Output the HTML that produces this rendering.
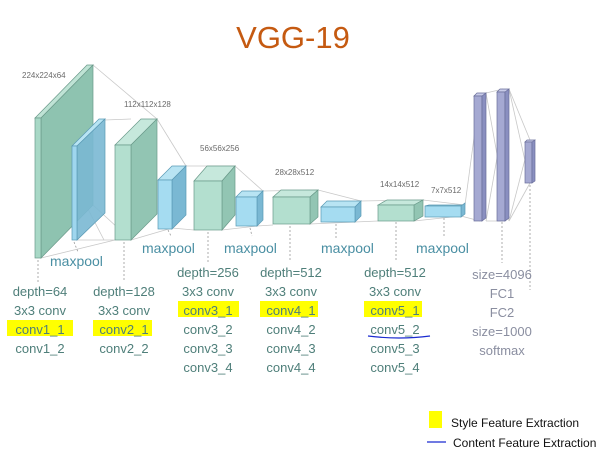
<!DOCTYPE html>
<html><head><meta charset="utf-8"><style>
html,body{margin:0;padding:0;background:#fff;width:613px;height:466px;overflow:hidden}
svg{display:block}
text{font-family:"Liberation Sans",sans-serif}
</style></head><body>
<svg width="613" height="466" viewBox="0 0 613 466" xmlns="http://www.w3.org/2000/svg">
<text x="293" y="48" text-anchor="middle" font-size="31" fill="#c55a11">VGG-19</text>

<!-- connector lines -->
<g stroke="#c8c8c8" stroke-width="0.8" fill="none">
<line x1="93" y1="65" x2="157" y2="119"/><line x1="41" y1="258" x2="115" y2="240"/>
<line x1="41" y1="118" x2="104" y2="240"/><line x1="93" y1="205" x2="131" y2="240"/>
<line x1="157" y1="119" x2="186" y2="166"/><line x1="131" y1="240" x2="172" y2="228"/>
<line x1="105" y1="120" x2="131" y2="119"/><line x1="77" y1="240" x2="115" y2="240"/>
<line x1="186" y1="166" x2="235" y2="166"/><line x1="172" y1="228" x2="194" y2="230"/>
<line x1="235" y1="166" x2="263" y2="191"/><line x1="222" y1="230" x2="257" y2="226"/>
<line x1="263" y1="191" x2="318" y2="190"/><line x1="257" y1="226" x2="273" y2="225"/>
<line x1="318" y1="190" x2="361" y2="201"/><line x1="310" y1="224" x2="355" y2="222"/>
<line x1="361" y1="201" x2="423" y2="200"/><line x1="355" y1="222" x2="378" y2="221"/>
<line x1="423" y1="200" x2="465" y2="205"/><line x1="414" y1="221" x2="461" y2="216"/>
<line x1="465" y1="205" x2="480" y2="93"/><line x1="461" y1="216" x2="480" y2="221"/>
<line x1="486" y1="93" x2="503" y2="89"/><line x1="486" y1="221" x2="503" y2="221"/>
<line x1="486" y1="93" x2="509" y2="221"/><line x1="486" y1="221" x2="509" y2="89"/>
<line x1="509" y1="89" x2="530" y2="140"/><line x1="509" y1="221" x2="530" y2="183"/>
<line x1="509" y1="89" x2="530" y2="183"/><line x1="509" y1="221" x2="530" y2="140"/>
</g>

<!-- dotted drops -->
<g stroke="#9a9a9a" stroke-width="0.8" stroke-dasharray="2,2" fill="none">
<line x1="38" y1="260" x2="38" y2="282"/><line x1="124" y1="242" x2="124" y2="282"/>
<line x1="208" y1="232" x2="208" y2="262"/><line x1="290" y1="226" x2="290" y2="262"/>
<line x1="396" y1="222" x2="396" y2="262"/><line x1="502" y1="222" x2="502" y2="263"/>
<line x1="530" y1="185" x2="530" y2="290"/>
<line x1="74" y1="242" x2="78" y2="252"/><line x1="168" y1="230" x2="171" y2="236"/>
<line x1="250" y1="228" x2="252" y2="236"/><line x1="336" y1="224" x2="336" y2="240"/>
<line x1="444" y1="218" x2="444" y2="236"/>
</g>

<!-- boxes -->
<g stroke="#6a9a8a" stroke-width="0.7">
<!-- conv1 slab -->
<polygon points="35,118 87,65 93,65 41,118" fill="#bfe3d5"/>
<polygon points="41,118 93,65 93,205 41,258" fill="#8ec3b0"/>
<rect x="35" y="118" width="6" height="140" fill="#a8d8c6"/>
<!-- pool1 -->
<g stroke="#5a9ab5">
<polygon points="72,146 99,119 105,119 77,146" fill="#b8e4f3"/>
<polygon points="77,146 105,119 105,213 77,240" fill="#7ab8d3" fill-opacity="0.9"/>
<rect x="72" y="146" width="5" height="94" fill="#9fd6ee"/>
</g>
<!-- conv2 -->
<polygon points="115,145 141,119 157,119 131,145" fill="#c6e8dc"/>
<polygon points="131,145 157,119 157,214 131,240" fill="#92c5b3"/>
<rect x="115" y="145" width="16" height="95" fill="#b3dfcf"/>
<!-- pool2 -->
<g stroke="#5a9ab5">
<polygon points="158,180 172,166 186,166 172,180" fill="#b8e4f3"/>
<polygon points="172,180 186,166 186,215 172,229" fill="#7ab8d3"/>
<rect x="158" y="180" width="14" height="49" fill="#a5dcf1"/>
</g>
<!-- conv3 -->
<polygon points="194,181 207,166 235,166 222,181" fill="#c6e8dc"/>
<polygon points="222,181 235,166 235,215 222,230" fill="#92c5b3"/>
<rect x="194" y="181" width="28" height="49" fill="#b3dfcf"/>
<!-- pool3 -->
<g stroke="#5a9ab5">
<polygon points="236,197 242,191 263,191 257,197" fill="#b8e4f3"/>
<polygon points="257,197 263,191 263,220 257,226" fill="#7ab8d3"/>
<rect x="236" y="197" width="21" height="29" fill="#a5dcf1"/>
</g>
<!-- conv4 -->
<polygon points="273,197 281,190 318,190 310,197" fill="#c6e8dc"/>
<polygon points="310,197 318,190 318,217 310,224" fill="#92c5b3"/>
<rect x="273" y="197" width="37" height="27" fill="#b3dfcf"/>
<!-- pool4 -->
<g stroke="#5a9ab5">
<polygon points="321,207 327,201 361,201 355,207" fill="#b8e4f3"/>
<polygon points="355,207 361,201 361,216 355,222" fill="#7ab8d3"/>
<rect x="321" y="207" width="34" height="15" fill="#a5dcf1"/>
</g>
<!-- conv5 -->
<polygon points="378,205 387,200 423,200 414,205" fill="#c6e8dc"/>
<polygon points="414,205 423,200 423,216 414,221" fill="#92c5b3"/>
<rect x="378" y="205" width="36" height="16" fill="#b3dfcf"/>
<!-- pool5 -->
<g stroke="#5a9ab5">
<polygon points="425,206 429,205 465,205 461,206" fill="#b8e4f3"/>
<polygon points="461,206 465,203 465,214 461,217" fill="#7ab8d3"/>
<rect x="425" y="206" width="36" height="11" fill="#a5dcf1"/>
</g>
<!-- FCs -->
<g stroke="#6a6e9a">
<polygon points="474,96 477,93 486,93 483,96" fill="#c8cbe8"/>
<rect x="474" y="96" width="8" height="125" fill="#a5a9d2"/>
<polygon points="482,96 486,93 486,218 482,221" fill="#8a8fc0"/>
<polygon points="497,92 500,89 509,89 506,92" fill="#c8cbe8"/>
<rect x="497" y="92" width="8" height="129" fill="#a5a9d2"/>
<polygon points="505,92 509,89 509,218 505,221" fill="#8a8fc0"/>
<polygon points="525,142 527,140 535,140 533,142" fill="#c8cbe8"/>
<rect x="525" y="142" width="7" height="41" fill="#a5a9d2"/>
<polygon points="532,142 535,140 535,181 532,183" fill="#8a8fc0"/>
</g>
</g>

<!-- size labels -->
<g font-size="8" fill="#6a6a6a">
<text x="22" y="78">224x224x64</text>
<text x="124" y="107">112x112x128</text>
<text x="200" y="151">56x56x256</text>
<text x="275" y="175">28x28x512</text>
<text x="380" y="187">14x14x512</text>
<text x="431" y="193">7x7x512</text>
</g>

<!-- maxpool labels -->
<g font-size="14" fill="#4a8fa3">
<text x="50" y="266">maxpool</text>
<text x="142" y="253">maxpool</text>
<text x="224" y="253">maxpool</text>
<text x="321" y="253">maxpool</text>
<text x="416" y="253">maxpool</text>
</g>

<!-- highlights -->
<g fill="#ffff00">
<rect x="7" y="320" width="66" height="16"/>
<rect x="93" y="320" width="59" height="16"/>
<rect x="178" y="301" width="61" height="16"/>
<rect x="260" y="301" width="58" height="16"/>
<rect x="364" y="301" width="58" height="16"/>
</g>
<path d="M368,336 Q399,340 430,336" stroke="#1a2ad0" stroke-width="1.2" fill="none"/>

<!-- column text -->
<g font-size="13" fill="#4f7f7a" text-anchor="middle">
<text x="40" y="296">depth=64</text><text x="40" y="315">3x3 conv</text><text x="40" y="334">conv1_1</text><text x="40" y="353">conv1_2</text>
<text x="124" y="296">depth=128</text><text x="124" y="315">3x3 conv</text><text x="124" y="334">conv2_1</text><text x="124" y="353">conv2_2</text>
<text x="208" y="277">depth=256</text><text x="208" y="296">3x3 conv</text><text x="208" y="315">conv3_1</text><text x="208" y="334">conv3_2</text><text x="208" y="353">conv3_3</text><text x="208" y="372">conv3_4</text>
<text x="291" y="277">depth=512</text><text x="291" y="296">3x3 conv</text><text x="291" y="315">conv4_1</text><text x="291" y="334">conv4_2</text><text x="291" y="353">conv4_3</text><text x="291" y="372">conv4_4</text>
<text x="395" y="277">depth=512</text><text x="395" y="296">3x3 conv</text><text x="395" y="315">conv5_1</text><text x="395" y="334">conv5_2</text><text x="395" y="353">conv5_3</text><text x="395" y="372">conv5_4</text>
</g>
<g font-size="13" fill="#8a8ea0" text-anchor="middle">
<text x="502" y="279">size=4096</text><text x="502" y="298">FC1</text><text x="502" y="317">FC2</text><text x="502" y="336">size=1000</text><text x="502" y="355">softmax</text>
</g>

<!-- legend -->
<rect x="429" y="411" width="13" height="17" fill="#ffff00"/>
<text x="451" y="427" font-size="12" fill="#111">Style Feature Extraction</text>
<line x1="427" y1="442" x2="446" y2="442" stroke="#1a2ad0" stroke-width="1.3"/>
<text x="453" y="447" font-size="12" fill="#111">Content Feature Extraction</text>
</svg>
</body></html>
